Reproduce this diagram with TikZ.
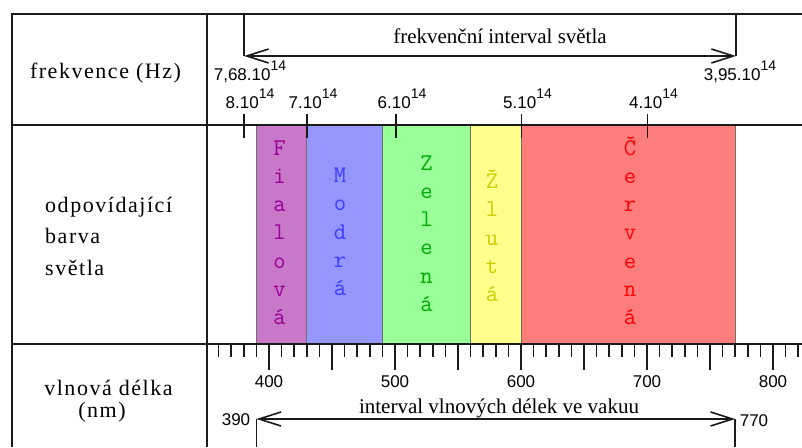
\documentclass[tikz,border=0pt]{standalone}
\usepackage{fontspec}
\setmainfont{Liberation Serif}
\newfontfamily\wideserif[LetterSpace=7]{Liberation Serif}
\newfontfamily\numsans{Liberation Sans}
\newfontfamily\bandmono{Latin Modern Mono}
\usepackage{xcolor}
\definecolor{cLine}{HTML}{1A1A1A}
\definecolor{cEdge}{HTML}{6E6E6E}
\definecolor{cVio}{HTML}{C878C8}
\definecolor{cVioT}{HTML}{990099}
\definecolor{cBlue}{HTML}{9696FF}
\definecolor{cBlueT}{HTML}{3C3CFF}
\definecolor{cGreen}{HTML}{99FF99}
\definecolor{cGreenT}{HTML}{00AA00}
\definecolor{cYel}{HTML}{FFFF8C}
\definecolor{cYelT}{HTML}{CCCC00}
\definecolor{cRed}{HTML}{FF7D7D}
\definecolor{cRedT}{HTML}{FF0000}
\usepackage{tikz}
\usetikzlibrary{positioning,arrows.meta}
% wavelength (nm) -> x position
\newcommand{\wl}[1]{269+1.26*(#1-400)}
\newcommand{\expo}[1]{\raisebox{10pt}{\fontsize{14}{14}\selectfont #1}}
\tikzset{
  frame-line/.style={line width=2pt,draw=cLine},
  band/.style={draw=cEdge,line width=0.8pt},
  band-letter/.style={font=\bandmono\fontsize{24}{24}\selectfont,
    inner sep=0pt,anchor=base},
  head-label/.style={font=\wideserif\fontsize{22}{26}\selectfont,
    inner sep=0pt,anchor=base},
  range-label/.style={font=\fontsize{21}{24}\selectfont,inner sep=0pt,anchor=base},
  num-label/.style={font=\numsans\fontsize{17}{20}\selectfont,inner sep=0pt,anchor=base},
  tick-mark/.style={line width=1.6pt,draw=cLine},
  % open arrow heads at both ends
  arrow-range/.style={{Straight Barb[length=22pt,width=14pt]}-{Straight Barb[length=22pt,width=14pt]},
    line width=1.6pt,draw=cLine},
}

\begin{document}
\begin{tikzpicture}[x=1pt,y=-1pt]
  \useasboundingbox (0,0) rectangle (802,447);
  % colour bands
  \draw[band,fill=cVio]   ({\wl{390}},125) rectangle ({\wl{430}},344);
  \draw[band,fill=cBlue]  ({\wl{430}},125) rectangle ({\wl{490}},344);
  \draw[band,fill=cGreen] ({\wl{490}},125) rectangle ({\wl{560}},344);
  \draw[band,fill=cYel]   ({\wl{560}},125) rectangle ({\wl{600}},344);
  \draw[band,fill=cRed]   ({\wl{600}},125) rectangle ({\wl{770}},344);
  \foreach \ch [count=\i from 0] in {F,i,a,l,o,v,á}
    \node[band-letter,text=cVioT] (fia-\i) at (279.5,155+28.3*\i) {\ch};
  \foreach \ch [count=\i from 0] in {M,o,d,r,á}
    \node[band-letter,text=cBlueT] (mod-\i) at (340,182.5+28.3*\i) {\ch};
  \foreach \ch [count=\i from 0] in {Z,e,l,e,n,á}
    \node[band-letter,text=cGreenT] (zel-\i) at (426.5,170+28.3*\i) {\ch};
  \foreach \ch [count=\i from 0] in {Ž,l,u,t,á}
    \node[band-letter,text=cYelT] (zlu-\i) at (492,188.5+28.3*\i) {\ch};
  \foreach \ch [count=\i from 0] in {Č,e,r,v,e,n,á}
    \node[band-letter,text=cRedT] (cer-\i) at (630,155+28.3*\i) {\ch};

  % table frame
  \draw[frame-line] (12,447) -- (12,14) -- (802,14);
  \draw[frame-line] (207,14) -- (207,447);
  \draw[frame-line] (12,125) -- (802,125);
  \draw[frame-line] (12,344) -- (802,344);

  % left column
  \node[head-label] (hd-freq) at (105.5,78) {frekvence (Hz)};
  \node[head-label,anchor=base west] (hd-col1) at (45,212) {odpovídající};
  \node[head-label,anchor=base west] (hd-col2) at (45,243.5) {barva};
  \node[head-label,anchor=base west] (hd-col3) at (45,275) {světla};
  \node[head-label] (hd-wave) at (108.5,395) {vlnová délka};
  \node[head-label] (hd-nm) at (102,417) {(nm)};

  % frequency row
  \coordinate (fq-top-l) at (244,14);
  \coordinate (fq-top-r) at (736,14);
  \coordinate (fq-l) at (244,56);
  \coordinate (fq-r) at (736,56);
  \draw[tick-mark] (fq-top-l) -- (fq-l);
  \draw[tick-mark] (fq-top-r) -- (fq-r);
  \draw[arrow-range] (fq-l) -- (fq-r);
  \node[range-label] (fq-text) at (500,43) {frekvenční interval světla};
  \node[num-label] (fq-max) at (250,80) {7,68.10\expo{14}};
  \node[num-label] (fq-min) at (740,80) {3,95.10\expo{14}};
  \foreach \x/\m in {244/8,307/7,396/6,521.5/5,647.5/4}{
    \draw[tick-mark] (\x,114) -- (\x,138);
    \node[num-label] (fq-\m) at (\x+6,108) {\m.10\expo{14}};
  }

  % wavelength scale
  \foreach \l in {360,370,...,820}
    \draw[tick-mark] ({\wl{\l}},344) -- ({\wl{\l}},357);
  \foreach \l in {400,450,...,800}
    \draw[tick-mark] ({\wl{\l}},344) -- ({\wl{\l}},370);
  \foreach \l in {400,500,...,800}
    \node[num-label] (nm-\l) at ({\wl{\l}},387) {\l};
  \coordinate (wl-l) at ({\wl{390}},419);
  \coordinate (wl-r) at ({\wl{770}},419);
  \coordinate (wl-bot-l) at ({\wl{390}},447);
  \coordinate (wl-bot-r) at ({\wl{770}},447);
  \draw[tick-mark] (wl-l) -- (wl-bot-l);
  \draw[tick-mark] (wl-r) -- (wl-bot-r);
  \draw[arrow-range] (wl-l) -- (wl-r);
  \node[range-label] (wl-text) at (499,413) {interval vlnových délek ve vakuu};
  \node[num-label] (wl-min) at (236,425) {390};
  \node[num-label] (wl-max) at (754,426) {770};
\end{tikzpicture}
\end{document}
